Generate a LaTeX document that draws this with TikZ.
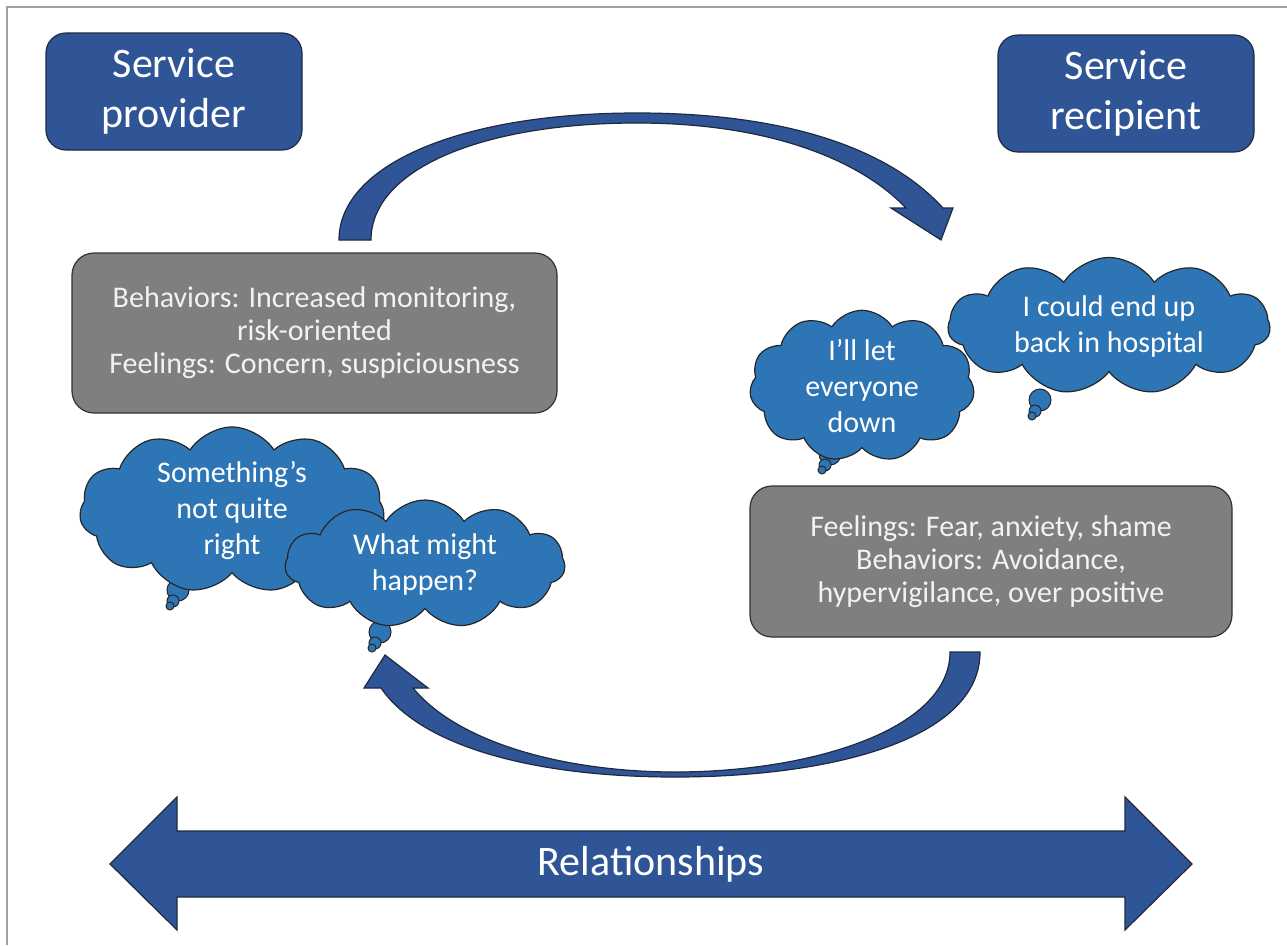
\documentclass[tikz,border=0pt]{standalone}
\usepackage{fontspec}
\setmainfont{Carlito}
\usetikzlibrary{shapes.symbols}
\definecolor{darkblue}{HTML}{2F5597}
\definecolor{cloudblue}{HTML}{2E75B6}
\definecolor{boxgray}{HTML}{7F7F7F}
\definecolor{edgecol}{HTML}{1F2A40}
\definecolor{framecol}{HTML}{A0A0A0}
\begin{document}
\begin{tikzpicture}[x=1pt,y=-1pt,
 titlebox/.style={draw=edgecol, line width=1.2pt, fill=darkblue, rounded corners=20pt, text=white, align=center, minimum width=256pt, minimum height=117pt, inner sep=0pt, font=\fontsize{42}{50}\selectfont},
 graybox/.style={draw=black!80, line width=1.2pt, fill=boxgray, rounded corners=22pt, text=white!95!black, align=center, inner sep=0pt, font=\fontsize{30}{33}\selectfont},
 thought/.style={cloud, cloud puffs=11, cloud puff arc=115, cloud ignores aspect, draw=black!85, line width=1.2pt, fill=cloudblue, text=white, align=center, inner sep=0pt, font=\fontsize{30}{36}\selectfont},
 bubble/.style={draw=black!85, line width=1pt, fill=cloudblue},
 bigarrow/.style={draw=edgecol, line width=1.2pt, fill=darkblue, line join=miter}
]
\useasboundingbox (0,0) rectangle (1287,945);
\fill[white] (0,0) rectangle (1287,945);
\draw[framecol, line width=1.5pt] (7,945) -- (7,7) -- (1287,7);

% title boxes
\node[titlebox] (prov) at (174,91.5) {Service\\provider};
\node[titlebox] (recip) at (1126,93.5) {Service\\recipient};

% gray boxes
\node[graybox, minimum width=485pt, minimum height=160pt] (provbox) at (314.5,333) {Behaviors: Increased monitoring,\\risk-oriented\\Feelings: Concern, suspiciousness};
\node[graybox, minimum width=482pt, minimum height=151pt] (recbox) at (991,561.5) {Feelings: Fear, anxiety, shame\\Behaviors: Avoidance,\\hypervigilance, over positive};

% top curved arrow
\draw[bigarrow] (339,240) .. controls (339,165) and (460,113) .. (637,113)
  .. controls (790,113) and (890,150) .. (943,208) -- (953,208) -- (941,240) -- (891,208) -- (906,208)
  .. controls (860,160) and (770,123) .. (637,123)
  .. controls (480,123) and (371,170) .. (371,240) -- cycle;

% bottom curved arrow
\draw[bigarrow] (980,652) .. controls (980,740) and (830,777) .. (675,777)
  .. controls (530,777) and (420,745) .. (381,688) -- (364,688) -- (385,655) -- (428,688) -- (413,688)
  .. controls (460,745) and (570,772) .. (675,772)
  .. controls (810,772) and (950,730) .. (950,652) -- cycle;

% thought bubbles tails
\foreach \x/\y in {1040/400, 830/454, 178/590, 380/632}{
  \draw[bubble] (\x,\y) circle (11);
  \draw[bubble] (\x-5,\y+11) circle (6);
  \draw[bubble] (\x-8,\y+16) circle (4);
}

% clouds
\node[thought, minimum width=322pt, minimum height=137pt] (c1) at (1109,326) {I could end up\\back in hospital};
\node[thought, minimum width=225pt, minimum height=137pt] (c2) at (862,386) {I’ll let\\everyone\\down};
\node[thought, minimum width=305pt, minimum height=140pt] (c3) at (232,510) {Something’s\\not quite\\right};
\node[thought, minimum width=280pt, minimum height=128pt] (c4) at (425,564) {What might\\happen?};

% relationships arrow
\draw[bigarrow] (110,864) -- (177,797) -- (177,831) -- (1125,831) -- (1125,797) -- (1192,864)
  -- (1125,930) -- (1125,897) -- (177,897) -- (177,930) -- cycle;
\node[text=white, font=\fontsize{42}{50}\selectfont] (rel) at (651,864) {Relationships};
\end{tikzpicture}
\end{document}
